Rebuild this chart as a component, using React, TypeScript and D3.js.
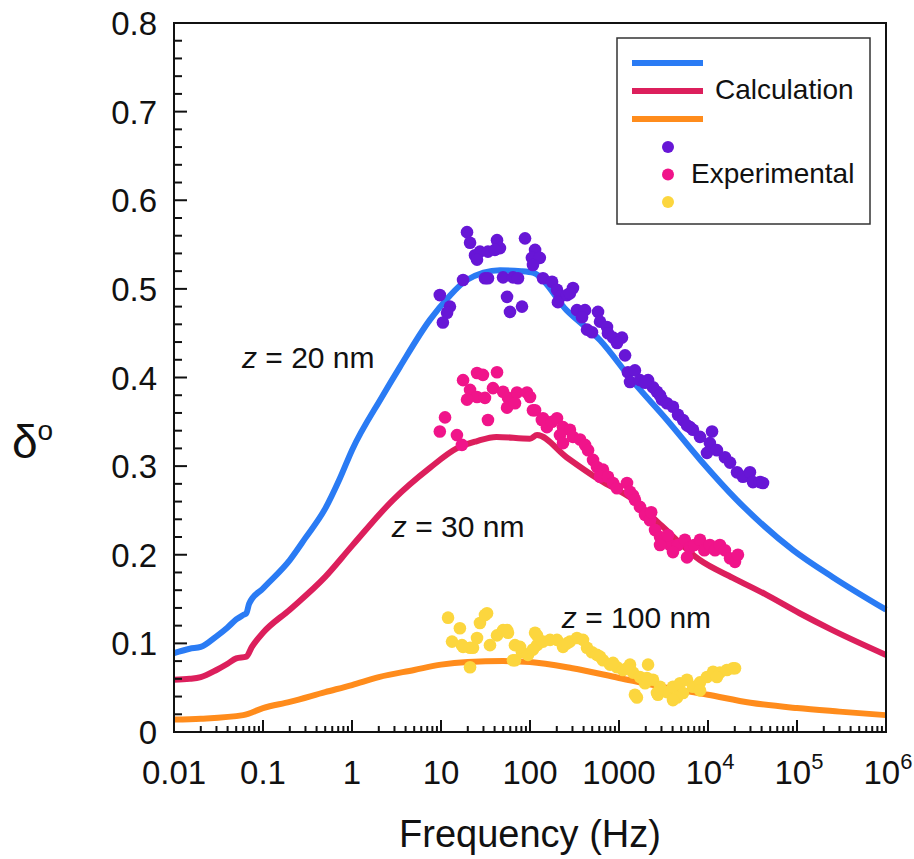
import React from "react";
import * as d3 from "d3";

// ---------- data ----------
const calcFreq20 = [0.01, 0.015, 0.02, 0.03, 0.04, 0.05, 0.06, 0.065, 0.07, 0.1, 0.2, 0.3, 0.5, 0.73, 1, 2.17, 3.46, 7.5, 12, 19.5, 46, 80, 110, 257, 613, 1450, 3460, 8200, 21000, 91000, 250000, 1e6];
const calcVal20 = [0.089, 0.094, 0.096, 0.108, 0.118, 0.127, 0.132, 0.134, 0.145, 0.162, 0.194, 0.219, 0.252, 0.286, 0.318, 0.378, 0.412, 0.465, 0.49, 0.51, 0.521, 0.52, 0.518, 0.476, 0.442, 0.395, 0.352, 0.307, 0.262, 0.205, 0.175, 0.138];

const calcFreq30 = [0.01, 0.015, 0.02, 0.03, 0.04, 0.05, 0.065, 0.075, 0.1, 0.2, 0.5, 1, 2.9, 7.5, 15, 25, 42, 100, 120, 257, 613, 1450, 3000, 8100, 19000, 45000, 107000, 250000, 1e6];
const calcVal30 = [0.059, 0.06, 0.062, 0.07, 0.077, 0.083, 0.085, 0.096, 0.112, 0.138, 0.175, 0.21, 0.262, 0.298, 0.32, 0.328, 0.333, 0.331, 0.335, 0.31, 0.284, 0.262, 0.233, 0.194, 0.174, 0.155, 0.134, 0.115, 0.087];

const calcFreq100 = [0.01, 0.02, 0.06, 0.1, 0.2, 0.5, 1, 2, 5, 10, 20, 50, 100, 300, 1000, 3000, 1e4, 3e4, 1e5, 3e5, 1e6];
const calcVal100 = [0.014, 0.015, 0.019, 0.027, 0.034, 0.045, 0.053, 0.062, 0.07, 0.076, 0.079, 0.08, 0.079, 0.072, 0.061, 0.051, 0.042, 0.033, 0.027, 0.023, 0.019];

const expFreq20 = [19.6, 21.2, 24.1, 27.4, 25.4, 33.7, 42.6, 46, 40.4, 87.9, 114, 105, 129, 108, 17.7, 31.2, 33.7, 49.8, 64.4, 73.3, 9.7, 12.6, 11.7, 10.5, 55.2, 59.6, 81.3, 140, 177, 201, 217, 206, 261, 304, 281, 337, 415, 384, 581, 612, 437, 497, 733, 752, 857, 1080, 950, 1170, 1260, 1510, 1330, 1720, 2120, 2410, 2670, 3040, 3460, 4040, 4600, 5240, 6280, 6780, 8130, 11100, 10500, 9740, 12600, 15500, 17700, 21200, 24700, 29600, 32000, 38400, 41500, 1960, 2890, 5810];
const expVal20 = [0.564, 0.552, 0.538, 0.542, 0.533, 0.542, 0.555, 0.546, 0.544, 0.557, 0.544, 0.535, 0.535, 0.527, 0.51, 0.512, 0.512, 0.513, 0.513, 0.512, 0.493, 0.48, 0.473, 0.462, 0.491, 0.474, 0.48, 0.512, 0.508, 0.499, 0.491, 0.485, 0.493, 0.501, 0.495, 0.476, 0.476, 0.468, 0.474, 0.463, 0.454, 0.451, 0.457, 0.45, 0.445, 0.445, 0.439, 0.425, 0.406, 0.408, 0.395, 0.397, 0.397, 0.389, 0.384, 0.375, 0.371, 0.367, 0.358, 0.352, 0.344, 0.341, 0.333, 0.339, 0.326, 0.315, 0.318, 0.31, 0.304, 0.293, 0.288, 0.293, 0.282, 0.282, 0.281, 0.394, 0.38, 0.346];

const expFreq30 = [17.7, 25.4, 29.6, 42.6, 21.2, 25.4, 19.6, 31.2, 38.4, 49.8, 56.6, 71.4, 92.5, 100, 55.2, 67.8, 108, 136, 155, 11.1, 9.7, 15.1, 17.2, 33.7, 114, 140, 177, 201, 235, 281, 217, 235, 304, 365, 415, 449, 511, 566, 661, 612, 752, 857, 950, 1230, 1330, 1440, 1510, 1720, 1960, 2230, 2300, 2540, 2890, 3290, 3740, 4600, 5500, 6280, 7000, 8130, 9100, 10500, 12000, 13600, 15500, 17700, 20100, 21700, 2890, 3550, 5810, 4040];
const expVal30 = [0.397, 0.405, 0.403, 0.406, 0.386, 0.378, 0.375, 0.377, 0.388, 0.384, 0.377, 0.383, 0.383, 0.378, 0.366, 0.371, 0.363, 0.352, 0.344, 0.355, 0.339, 0.335, 0.324, 0.352, 0.363, 0.354, 0.35, 0.354, 0.344, 0.341, 0.335, 0.326, 0.333, 0.33, 0.324, 0.318, 0.307, 0.299, 0.296, 0.288, 0.288, 0.281, 0.275, 0.281, 0.271, 0.267, 0.262, 0.254, 0.245, 0.239, 0.248, 0.228, 0.22, 0.217, 0.211, 0.211, 0.217, 0.208, 0.211, 0.217, 0.205, 0.211, 0.205, 0.211, 0.205, 0.196, 0.192, 0.2, 0.211, 0.222, 0.197, 0.203];

const expFreq100 = [12, 16.3, 13.3, 17.2, 21.2, 25.4, 27.4, 32.9, 35.5, 42.6, 49.8, 56.6, 21.2, 67.8, 67.8, 81.3, 95, 114, 120, 140, 168, 201, 235, 281, 337, 394, 437, 497, 566, 661, 792, 950, 1110, 1330, 1440, 1720, 2120, 1960, 2410, 2890, 1510, 2740, 3460, 4040, 4850, 5810, 6780, 8130, 9740, 11400, 13600, 16300, 19100, 5240, 4480, 8130, 31.2, 17.7, 22.9, 55.2, 77.2, 64.4, 120, 108, 261, 612, 857, 1230, 1590, 2060, 2670, 4040, 12600, 20100];
const expVal100 = [0.129, 0.117, 0.102, 0.098, 0.095, 0.106, 0.123, 0.134, 0.098, 0.109, 0.115, 0.112, 0.073, 0.098, 0.081, 0.09, 0.087, 0.112, 0.098, 0.102, 0.104, 0.104, 0.096, 0.102, 0.106, 0.104, 0.095, 0.09, 0.087, 0.081, 0.076, 0.073, 0.07, 0.076, 0.067, 0.062, 0.076, 0.055, 0.059, 0.051, 0.042, 0.042, 0.045, 0.051, 0.055, 0.059, 0.051, 0.056, 0.062, 0.068, 0.067, 0.07, 0.072, 0.044, 0.039, 0.047, 0.132, 0.096, 0.095, 0.115, 0.096, 0.081, 0.109, 0.093, 0.1, 0.085, 0.078, 0.072, 0.039, 0.061, 0.044, 0.036, 0.062, 0.072];

const xMajorTicks = [0.01, 0.1, 1, 10, 100, 1000, 1e4, 1e5, 1e6];
const xTickLabels = ["0.01", "0.1", "1", "10", "100", "1000", "10^4", "10^5", "10^6"];
const yMajorTicks = [0, 0.1, 0.2, 0.3, 0.4, 0.5, 0.6, 0.7, 0.8];
const yTickLabels = ["0", "0.1", "0.2", "0.3", "0.4", "0.5", "0.6", "0.7", "0.8"];

const annotations = [
  { z: "z", rest: " = 20 nm", f: 0.058, v: 0.411 },
  { z: "z", rest: " = 30 nm", f: 2.8, v: 0.22 },
  { z: "z", rest: " = 100 nm", f: 228, v: 0.117 },
];

const lineColors = ["#2a7bf4", "#dc1f5c", "#ff8c1c"];
const dotColors = ["#6716d6", "#f0148a", "#fcd63e"];
const legendLabels = ["Calculation", "Experimental"];

// ---------- layout ----------
const W = 914;
const H = 859;
const X0 = 174, X1 = 886, Y0 = 732, Y1 = 23;
const FONT = "Arial, 'Liberation Sans', Helvetica, sans-serif";

export default function App() {
  const x = d3.scaleLog().domain([0.01, 1e6]).range([X0, X1]);
  const y = d3.scaleLinear().domain([0, 0.8]).range([Y0, Y1]);

  const line = d3
    .line<[number, number]>()
    .x((d) => x(d[0]))
    .y((d) => y(d[1]))
    .curve(d3.curveMonotoneX);

  const curves = [
    { f: calcFreq20, v: calcVal20 },
    { f: calcFreq30, v: calcVal30 },
    { f: calcFreq100, v: calcVal100 },
  ];
  const exps = [
    { f: expFreq20, v: expVal20 },
    { f: expFreq30, v: expVal30 },
    { f: expFreq100, v: expVal100 },
  ];

  const minorX: number[] = [];
  for (let e = -2; e < 6; e++) {
    for (let k = 2; k <= 9; k++) minorX.push(k * Math.pow(10, e));
  }
  const minorY: number[] = [];
  for (let i = 0; i <= 40; i++) {
    if (i % 5 !== 0) minorY.push(i * 0.02);
  }

  return (
    <svg
      width={W}
      height={H}
      style={{ position: "absolute", left: 0, top: 0, background: "#fff" }}
      fontFamily={FONT}
    >
      <rect x={0} y={0} width={W} height={H} fill="#fff" />

      {/* curves */}
      {curves.map((c, i) => (
        <path
          key={"c" + i}
          d={line(c.f.map((f, j) => [f, c.v[j]] as [number, number])) || ""}
          fill="none"
          stroke={lineColors[i]}
          strokeWidth={6}
          strokeLinejoin="round"
          strokeLinecap="butt"
        />
      ))}

      {/* experimental points */}
      {exps.map((s, i) => (
        <g key={"e" + i} fill={dotColors[i]}>
          {s.f.map((f, j) => (
            <circle key={j} cx={x(f)} cy={y(s.v[j])} r={6.3} />
          ))}
        </g>
      ))}

      {/* frame */}
      <rect x={X0} y={Y1} width={X1 - X0} height={Y0 - Y1} fill="none" stroke="#111" strokeWidth={2} />

      {/* x ticks */}
      {xMajorTicks.map((t) => (
        <line key={"xm" + t} x1={x(t)} x2={x(t)} y1={Y0} y2={Y0 - 12} stroke="#111" strokeWidth={2} />
      ))}
      {minorX.map((t, i) => (
        <line key={"xn" + i} x1={x(t)} x2={x(t)} y1={Y0} y2={Y0 - 6} stroke="#111" strokeWidth={2} />
      ))}
      {/* y ticks */}
      {yMajorTicks.map((t) => (
        <line key={"ym" + t} x1={X0} x2={X0 + 13} y1={y(t)} y2={y(t)} stroke="#111" strokeWidth={2} />
      ))}
      {minorY.map((t, i) => (
        <line key={"yn" + i} x1={X0} x2={X0 + 8} y1={y(t)} y2={y(t)} stroke="#111" strokeWidth={2} />
      ))}

      {/* y tick labels */}
      {yMajorTicks.map((t, i) => (
        <text key={"yl" + t} x={157} y={y(t) + 12} fontSize={33} textAnchor="end" fill="#111">
          {yTickLabels[i]}
        </text>
      ))}

      {/* x tick labels */}
      {xMajorTicks.map((t, i) => {
        const lab = xTickLabels[i];
        if (lab.includes("^")) {
          const [b, e] = lab.split("^");
          return (
            <text key={"xl" + t} x={x(t) + 2} y={784} fontSize={33} textAnchor="middle" fill="#111">
              {b}
              <tspan fontSize={22} dy={-15}>{e}</tspan>
            </text>
          );
        }
        return (
          <text key={"xl" + t} x={x(t)} y={784} fontSize={33} textAnchor="middle" fill="#111">
            {lab}
          </text>
        );
      })}

      {/* axis titles */}
      <text x={530} y={847} fontSize={38} textAnchor="middle" fill="#111">
        Frequency (Hz)
      </text>
      <text x={12} y={458} fontSize={46} fill="#111">
        δ<tspan fontSize={28} dy={-18}>o</tspan>
      </text>

      {/* annotations */}
      {annotations.map((a, i) => (
        <text key={"a" + i} x={x(a.f)} y={y(a.v)} fontSize={30} fill="#111">
          <tspan fontStyle="italic">{a.z}</tspan>
          {a.rest}
        </text>
      ))}

      {/* legend */}
      <rect x={617} y={38} width={253} height={186} fill="#fff" stroke="#333" strokeWidth={1.5} />
      {lineColors.map((c, i) => (
        <line key={"ll" + i} x1={632} x2={703} y1={63 + i * 28} y2={63 + i * 28} stroke={c} strokeWidth={6} />
      ))}
      <text x={715} y={99} fontSize={28} fill="#111">{legendLabels[0]}</text>
      {dotColors.map((c, i) => (
        <circle key={"ld" + i} cx={668} cy={147 + i * 27.5} r={6} fill={c} />
      ))}
      <text x={691} y={183} fontSize={28} fill="#111">{legendLabels[1]}</text>
    </svg>
  );
}
